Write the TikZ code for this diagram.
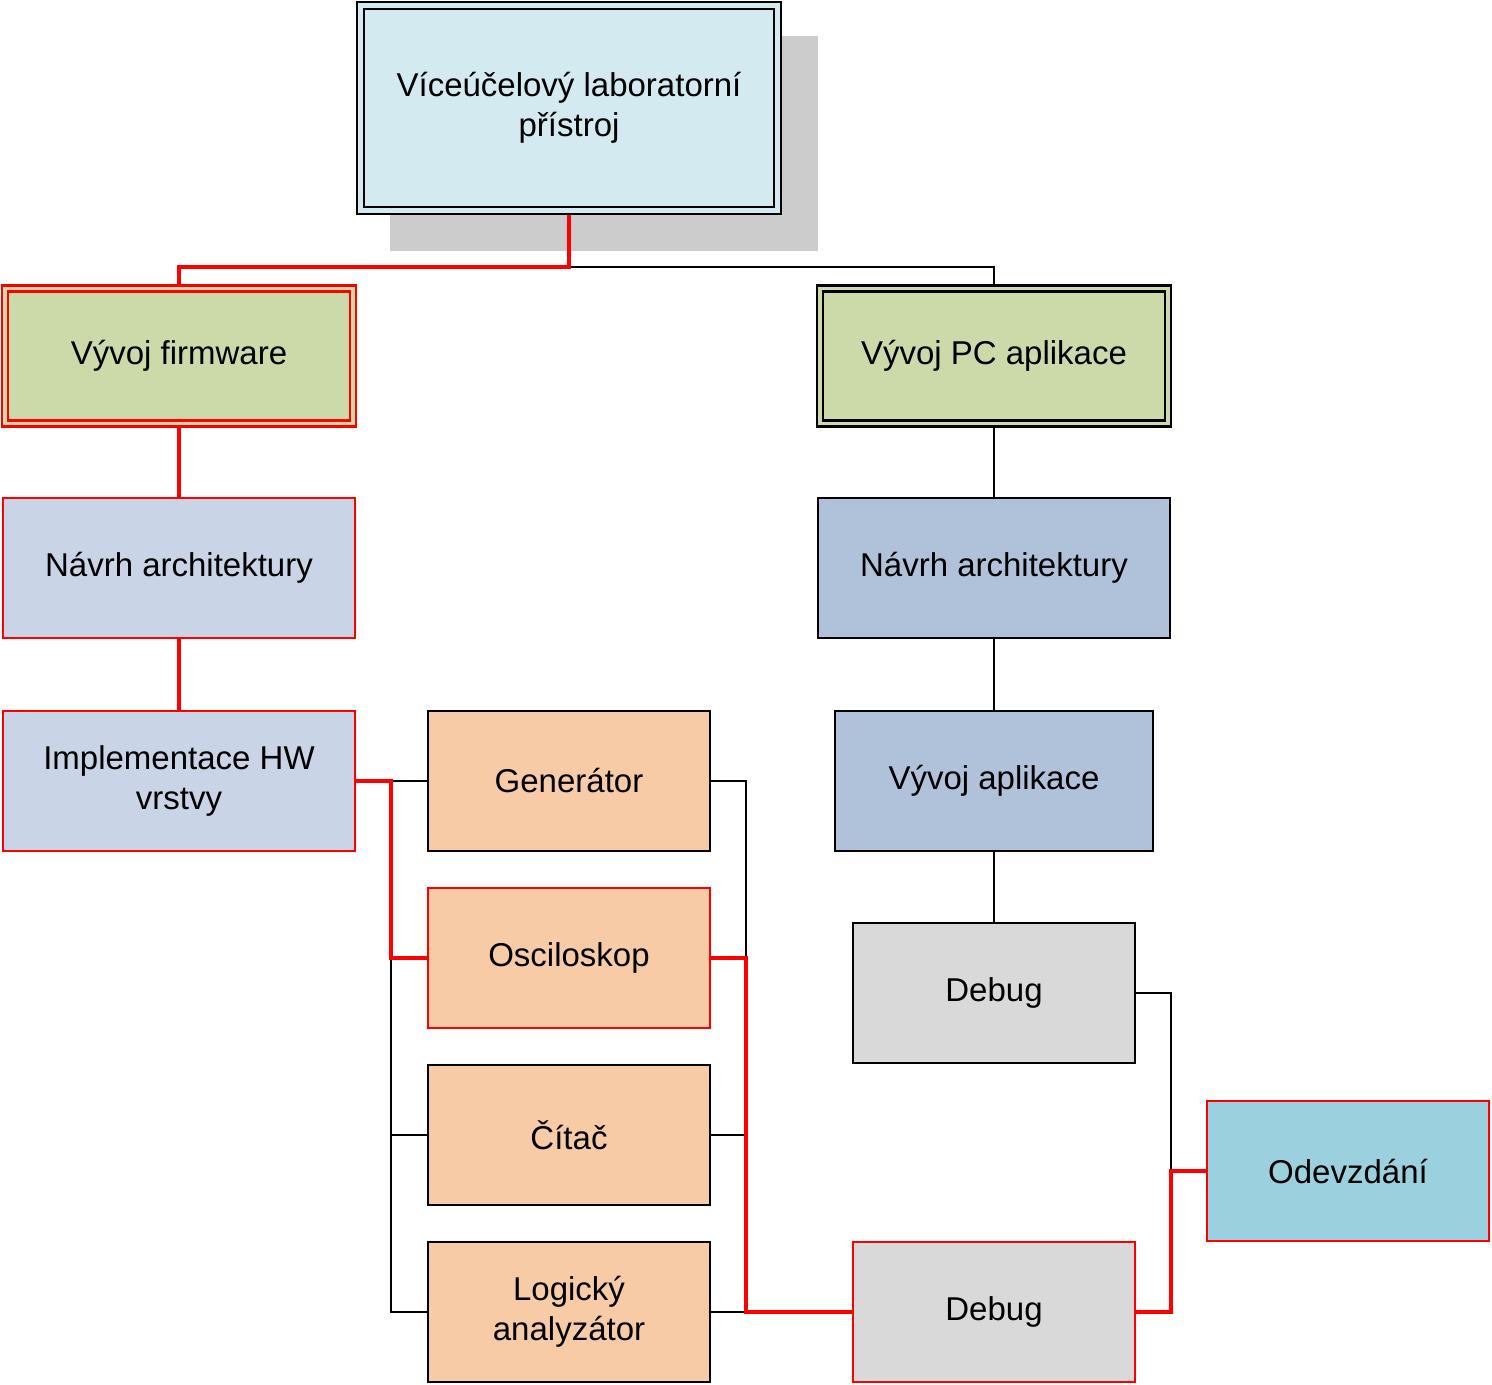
\documentclass[tikz,border=0pt]{standalone}
\usepackage{fontspec}
\setmainfont{Liberation Sans}
\usetikzlibrary{backgrounds}
\definecolor{topblue}{RGB}{211,234,240}
\definecolor{devgreen}{RGB}{204,218,170}
\definecolor{fwblue}{RGB}{201,213,230}
\definecolor{pcblue}{RGB}{176,194,218}
\definecolor{partorange}{RGB}{248,203,167}
\definecolor{debuggray}{RGB}{217,217,217}
\definecolor{endcyan}{RGB}{155,209,222}
\definecolor{shadowgray}{RGB}{204,204,204}
\begin{document}
\begin{tikzpicture}[x=0.5pt, y=-0.5pt,
    box/.style={draw=black, line width=1.2pt, inner sep=0pt, outer sep=0pt,
      align=center, minimum width=141pt, minimum height=70pt,
      font=\fontsize{16.5}{20}\selectfont},
    redbox/.style={box, draw=red},
    wide/.style={minimum width=176pt},
    twin/.style={double distance=1.8pt, minimum width=174pt, minimum height=67.5pt},
    link/.style={line width=1.2pt, black},
    redlink/.style={line width=2.2pt, red}]
      \useasboundingbox (0,0) rectangle (1492,1385);

      \node[box, fill=topblue, double=topblue, double distance=2.3pt,
        minimum width=208.5pt, minimum height=102.5pt] (top) at (569,108)
        {Víceúčelový laboratorní\\přístroj};

      \node[redbox, twin, fill=devgreen, double=devgreen] (fw) at (179,356) {Vývoj firmware};
      \node[box, twin, fill=devgreen, double=devgreen] (pc) at (994,356) {Vývoj PC aplikace};

      \node[redbox, wide, fill=fwblue] (fwarch) at (179,568) {Návrh architektury};
      \node[redbox, wide, fill=fwblue] (hw) at (179,781) {Implementace HW\\vrstvy};

      \node[box, fill=partorange] (gen) at (569,781) {Generátor};
      \node[redbox, fill=partorange] (osc) at (569,958) {Osciloskop};
      \node[box, fill=partorange] (cnt) at (569,1135) {Čítač};
      \node[box, fill=partorange] (logic) at (569,1312) {Logický\\analyzátor};

      \node[box, wide, fill=pcblue] (pcarch) at (994,568) {Návrh architektury};
      \node[box, fill=pcblue, minimum width=159pt] (app) at (994,781) {Vývoj aplikace};
      \node[box, fill=debuggray] (dbgpc) at (994,993) {Debug};
      \node[redbox, fill=debuggray] (dbgall) at (994,1312) {Debug};
      \node[redbox, fill=endcyan] (hand) at (1348,1171) {Odevzdání};

      \coordinate (split) at (569,267);
      \coordinate (hwbus) at (391,781);
      \coordinate (fwbus) at (746,1312);
      \coordinate (endbus) at (1171,1171);

      \begin{scope}[on background layer]
      \fill[shadowgray] (390,36) rectangle (818,251);

      \draw[link] (split) -| (pc.north);
      \draw[link] (pc.south) -- (pcarch.north);
      \draw[link] (pcarch.south) -- (app.north);
      \draw[link] (app.south) -- (dbgpc.north);

      \draw[link] (hwbus) -- (gen.west);
      \draw[link] (hwbus |- osc.west) |- (cnt.west);
      \draw[link] (hwbus |- osc.west) |- (logic.west);
      \draw[link] (gen.east) -| (fwbus |- osc.east);
      \draw[link] (cnt.east) -- (cnt.east -| fwbus);
      \draw[link] (logic.east) -- (fwbus);
      \draw[link] (dbgpc.east) -| (endbus);

      \draw[redlink] (top.south) -- (split) -| (fw.north);
      \draw[redlink] (fw.south) -- (fwarch.north);
      \draw[redlink] (fwarch.south) -- (hw.north);
      \draw[redlink] (hw.east) -- (hwbus) |- (osc.west);
      \draw[redlink] (osc.east) -| (fwbus) -- (dbgall.west);
      \draw[redlink] (dbgall.east) -| (endbus) -- (hand.west);
      \end{scope}
    \end{tikzpicture}
\end{document}
